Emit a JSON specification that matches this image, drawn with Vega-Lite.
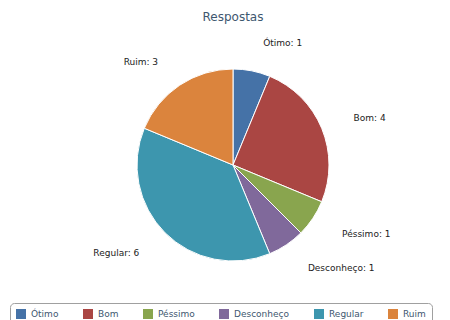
{
  "$schema": "https://vega.github.io/schema/vega-lite/v6.json",
  "autosize": {"type": "none"},
  "padding": {"left": 16, "top": 10, "right": 0, "bottom": 0},
  "width": 434,
  "height": 310,
  "background": "#ffffff",
  "title": {
    "text": "Respostas",
    "offset": -14,
    "font": "DejaVu Sans",
    "fontSize": 12,
    "fontWeight": "normal",
    "color": "#3E576F"
  },
  "data": {
    "values": [
      {"i": 1, "cat": "Ótimo", "value": 1},
      {"i": 2, "cat": "Bom", "value": 4},
      {"i": 3, "cat": "Péssimo", "value": 1},
      {"i": 4, "cat": "Desconheço", "value": 1},
      {"i": 5, "cat": "Regular", "value": 6},
      {"i": 6, "cat": "Ruim", "value": 3}
    ]
  },
  "transform": [
    {"calculate": "datum.cat + ':  ' + datum.value", "as": "label"}
  ],
  "encoding": {
    "theta": {"field": "value", "type": "quantitative", "stack": true},
    "order": {"field": "i", "type": "quantitative"},
    "color": {
      "field": "cat",
      "type": "nominal",
      "sort": ["Ótimo", "Bom", "Péssimo", "Desconheço", "Regular", "Ruim"],
      "scale": {
        "domain": ["Ótimo", "Bom", "Péssimo", "Desconheço", "Regular", "Ruim"],
        "range": ["#4572A7", "#AA4643", "#89A54E", "#80699B", "#3D96AE", "#DB843D"]
      },
      "legend": {
        "title": null,
        "orient": "none",
        "direction": "horizontal",
        "legendX": -6,
        "legendY": 293,
        "padding": 6,
        "strokeColor": "#A0A0A0",
        "cornerRadius": 4,
        "symbolType": "square",
        "symbolSize": 100,
        "symbolStrokeWidth": 0,
        "labelFont": "DejaVu Sans",
        "labelFontSize": 9,
        "labelColor": "#3E576F",
        "columnPadding": 24,
        "labelOffset": 5
      }
    }
  },
  "layer": [
    {
      "mark": {"type": "arc", "outerRadius": 96, "stroke": "#ffffff", "strokeWidth": 1}
    },
    {
      "mark": {"type": "text", "radius": 124, "align": "left", "baseline": "middle", "dx": 6, "font": "DejaVu Sans", "fontSize": 9},
      "encoding": {
        "text": {"field": "label"},
        "color": {"value": "#222222"},
        "opacity": {"condition": {"test": "datum.cat == 'Regular' || datum.cat == 'Ruim'", "value": 0}, "value": 1}
      }
    },
    {
      "mark": {"type": "text", "radius": 124, "align": "right", "baseline": "middle", "dx": -6, "font": "DejaVu Sans", "fontSize": 9},
      "encoding": {
        "text": {"field": "label"},
        "color": {"value": "#222222"},
        "opacity": {"condition": {"test": "datum.cat == 'Regular' || datum.cat == 'Ruim'", "value": 1}, "value": 0}
      }
    }
  ]
}
